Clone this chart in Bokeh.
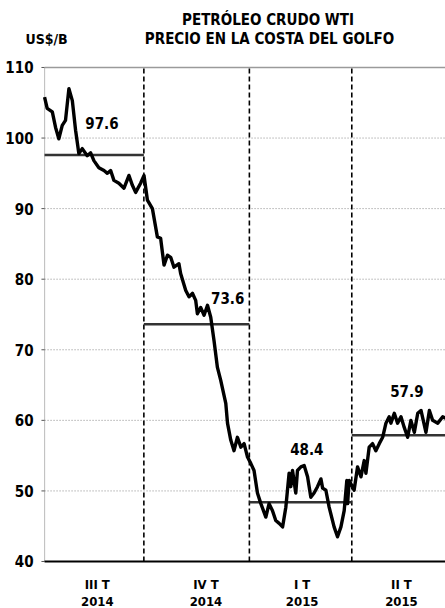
from bokeh.plotting import figure
from bokeh.models import Range1d, Label, LabelSet, ColumnDataSource
from bokeh.core.properties import value
from bokeh.embed import file_html
from bokeh.resources import INLINE

# --- data (trading-day index, US$/barrel) ---
day = [0, 1.7, 5.0, 7.1, 9.2, 11.4, 13.5, 15.7, 17.9, 20.0, 22.1, 24.3, 27.5, 29.7, 31.8,
       35.0, 38.3, 40.5, 42.6, 44.7, 47.9, 51.2, 54.4, 56.6, 58.7, 61.9, 64.1, 66.3, 69.5,
       72.7, 74.8, 77.0, 79.2, 81.3, 83.4, 86.6, 87.7, 91.0, 93.1, 95.3, 97.4, 98.5, 100.6,
       102.8, 105.0, 107.1, 109.2, 111.4, 113.5, 116.8, 117.9, 120.0, 122.1, 124.3, 126.5,
       128.6, 130.8, 132.9, 135.0, 137.2, 139.4, 142.6, 144.7, 146.9, 149.0, 151.2, 153.4,
       155.5, 157.6, 158.7, 159.8, 161.9, 163.0, 165.2, 167.3, 169.5, 171.6, 173.7, 175.9,
       178.1, 179.2, 181.3, 183.4, 186.6, 188.8, 191.0, 193.1, 194.8, 195.3, 196.3, 199.5,
       201.7, 203.9, 206.0, 207.1, 209.2, 211.4, 213.5, 215.7, 217.9, 220.0, 222.1, 223.2,
       225.4, 227.5, 229.7, 231.8, 234.0, 236.1, 238.3, 240.5, 242.6, 245.8, 248.0, 250.1,
       253.4, 256.6, 258.7]
price = [105.8, 104.2, 103.7, 101.5, 99.9, 101.8, 102.5, 107.0, 105.3, 101.1, 97.8, 98.5,
         97.5, 97.9, 96.8, 95.8, 95.4, 95.0, 95.4, 94.0, 93.6, 92.9, 94.7, 93.3, 92.3, 93.6,
         94.7, 91.2, 90.0, 86.0, 85.8, 82.0, 83.4, 83.1, 81.7, 82.2, 80.8, 78.4, 77.5, 78.0,
         77.0, 75.1, 76.0, 74.9, 76.3, 74.6, 71.3, 67.5, 65.7, 62.4, 59.6, 57.2, 55.7, 57.6,
         56.2, 56.7, 54.8, 53.9, 52.9, 49.7, 48.2, 46.3, 48.2, 47.2, 45.8, 45.4, 44.9, 47.7,
         52.5, 50.6, 52.9, 49.7, 52.9, 53.4, 53.6, 52.0, 49.1, 49.7, 50.6, 51.7, 50.4, 50.1,
         47.7, 44.9, 43.5, 44.9, 47.2, 51.5, 48.2, 51.5, 50.1, 53.4, 52.0, 54.3, 52.5, 56.2,
         56.7, 55.7, 56.7, 57.6, 59.6, 60.5, 59.6, 61.0, 59.6, 60.5, 59.0, 57.6, 60.0, 58.3,
         61.0, 61.4, 58.3, 61.4, 60.0, 59.6, 60.5, 60.3]

quarter_start = [0, 64, 132, 198]
quarter_end = [64, 132, 198, 261]
quarter_avg = [97.6, 73.6, 48.4, 57.9]
quarter_names = ["III T", "IV T", "I T", "II T"]
quarter_years = ["2014", "2014", "2015", "2015"]
y_ticks = [40, 50, 60, 70, 80, 90, 100, 110]
y_tick_labels = [str(t) for t in y_ticks]

Y_MIN, Y_MAX = 40, 110
X_MIN, X_MAX = 0, 261

# --- label placement (styles/positions) ---
quarter_label_x = [34, 104, 166, 230]
avg_label_x = [37, 118, 169, 233.5]
avg_label_y = [102.1, 77.4, 55.9, 64.1]

FONT = "DejaVu Sans Condensed"

p = figure(width=445, height=608, output_backend="svg", toolbar_location=None,
           x_range=Range1d(-28.39, 258.39), y_range=Range1d(33.34, 119.49),
           min_border=0)
p.outline_line_color = None
p.axis.visible = False
p.grid.visible = False

# horizontal gridlines (dotted), top line solid
inner = y_ticks[1:-1]
p.segment(x0=[X_MIN] * len(inner), x1=[X_MAX] * len(inner), y0=inner, y1=inner,
          line_color="#8a8a8a", line_dash="1 2", line_width=1)
p.segment(x0=[X_MIN], x1=[X_MAX], y0=[Y_MAX], y1=[Y_MAX], line_color="#9a9a9a", line_width=1.5)

# left axis (dotted) with small ticks
p.segment(x0=[X_MIN], x1=[X_MIN], y0=[Y_MIN], y1=[Y_MAX], line_color="#888888",
          line_dash="1 1", line_width=1.2)
p.segment(x0=[X_MIN - 2] * len(y_ticks), x1=[X_MIN] * len(y_ticks), y0=y_ticks, y1=y_ticks,
          line_color="#555555", line_width=1)

# bottom axis
p.segment(x0=[X_MIN], x1=[X_MAX], y0=[Y_MIN], y1=[Y_MIN], line_color="black", line_width=2)

# quarter boundaries
bnd = quarter_start[1:]
p.segment(x0=bnd, x1=bnd, y0=[Y_MIN] * len(bnd), y1=[Y_MAX] * len(bnd),
          line_color="black", line_width=1.6, line_dash="5 3")

# quarter averages
p.segment(x0=quarter_start, x1=quarter_end, y0=quarter_avg, y1=quarter_avg,
          line_color="#333333", line_width=2.5)

# price line
p.line(day, price, line_color="black", line_width=3.4, line_join="round")

common = dict(text_font=value(FONT), text_font_style="bold", text_color="black",
              text_baseline="middle")

# y tick labels
src_y = ColumnDataSource(dict(x=[-7.1] * len(y_ticks), y=y_ticks, t=y_tick_labels))
p.add_layout(LabelSet(x="x", y="y", text="t", source=src_y, text_align="right",
                      text_font_size="15px", **common))

# average labels
src_avg = ColumnDataSource(dict(x=avg_label_x, y=avg_label_y,
                                t=[f"{v:.1f}" for v in quarter_avg]))
p.add_layout(LabelSet(x="x", y="y", text="t", source=src_avg, text_align="center",
                      text_font_size="15px", **common))

# quarter labels below axis
src_q = ColumnDataSource(dict(x=quarter_label_x, yn=[36.75] * 4, yy=[34.35] * 4,
                              n=quarter_names, yr=quarter_years))
p.add_layout(LabelSet(x="x", y="yn", text="n", source=src_q, text_align="center",
                      text_font_size="13px", **common))
p.add_layout(LabelSet(x="x", y="yy", text="yr", source=src_q, text_align="center",
                      text_font_size="13px", **common))

# titles
for txt, x, y, fs in [("PETRÓLEO CRUDO WTI", 144, 116.7, "15px"),
                      ("PRECIO EN LA COSTA DEL GOLFO", 145, 114.1, "15px"),
                      ("US$/B", 1.3, 114.1, "14px")]:
    p.add_layout(Label(x=x, y=y, text=txt, text_align="center", text_font_size=fs,
                       text_font=FONT, text_font_style="bold", text_color="black",
                       text_baseline="middle"))

open("out.html", "w").write(file_html(p, INLINE))
